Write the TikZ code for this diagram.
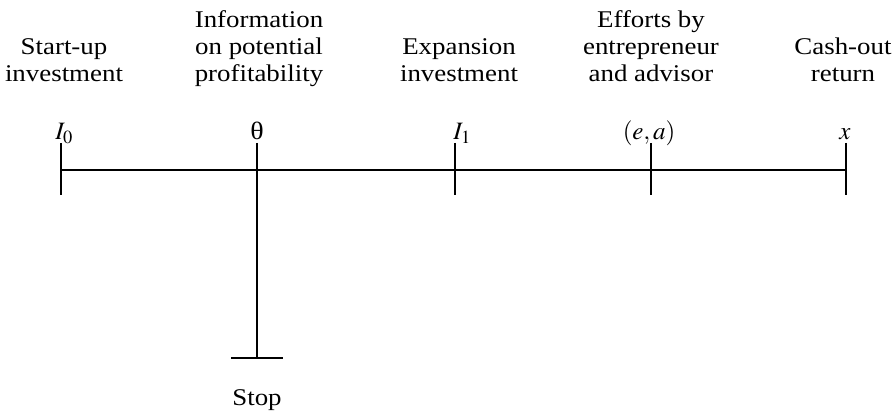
\documentclass[tikz,border=0pt]{standalone}
\usepackage{mathptmx}
\usepackage[no-math]{fontspec}
\setmainfont{Liberation Serif}[FakeStretch=1.12]
\usetikzlibrary{positioning}
\tikzstyle{line}=[draw, line width=0.7pt]
\tikzstyle{caption}=[align=center, anchor=base, inner sep=0pt, font=\fontsize{12}{13.5}\selectfont]
\tikzstyle{symbol}=[anchor=base, inner sep=0pt, font=\fontsize{12.5}{13.5}\selectfont]

\begin{document}
\begin{tikzpicture}[x=0.5pt, y=-0.5pt, line join=bevel]
	\useasboundingbox (0,0) rectangle (895,415);
	\coordinate (t0) at (61,170);
	\coordinate (t1) at (257,170);
	\coordinate (t2) at (455,170);
	\coordinate (t3) at (651,170);
	\coordinate (t4) at (846,170);
	\coordinate (stop) at (257,358);

	% Time line and stop branch
	\draw[line] (t0) -- (t4);
	\draw[line] (t1) -- (stop);
	\draw[line] ([xshift=-13pt]stop) -- ([xshift=13pt]stop);

	% Ticks
	\foreach \tick in {t0,t1,t2,t3,t4}
	\draw[line] ([yshift=13.5pt]\tick) -- ([yshift=-12.5pt]\tick);

	% Descriptions (anchored at the last line)
	\node[caption] (start) at (64,82) {Start-up\\investment};
	\node[caption] (info) at (259,82) {Information\\on potential\\profitability};
	\node[caption] (expand) at (459,82) {Expansion\\investment};
	\node[caption] (effort) at (651,82) {Efforts by\\entrepreneur\\and advisor};
	\node[caption] (cash) at (843,82) {Cash-out\\return};
	\node[caption] (stoptext) at (257,406) {Stop};

	% Variables
	\node[symbol, anchor=base west] (i0) at (55,140) {$I_0$};
	\node[symbol] (theta) at (257,140) {θ};
	\node[symbol, anchor=base west] (i1) at (453,140) {$I_1$};
	\node[symbol] (ea) at (649,140) {$(e,a)$};
	\node[symbol] (ret) at (845,140) {$x$};
\end{tikzpicture}
\end{document}
